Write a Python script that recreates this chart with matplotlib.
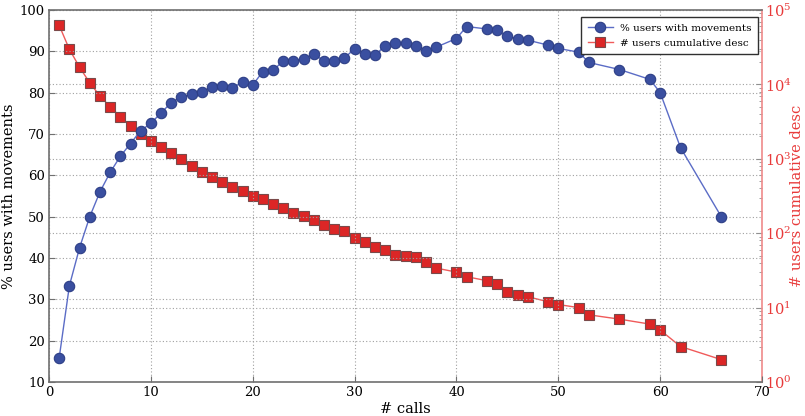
import matplotlib
matplotlib.use("Agg")
import matplotlib.pyplot as plt
from matplotlib.ticker import LogLocator, MultipleLocator

plt.rcParams['font.family'] = ['DejaVu Serif']
plt.rcParams['mathtext.fontset'] = 'dejavuserif'

# Number of calls per user
calls_pct = [1, 2, 3, 4, 5, 6, 7, 8, 9, 10, 11, 12, 13, 14, 15, 16, 17, 18, 19, 20,
             21, 22, 23, 24, 25, 26, 27, 28, 29, 30, 31, 32, 33, 34, 35, 36, 37, 38,
             40, 41, 43, 44, 45, 46, 47, 49, 50, 52, 53, 56, 59, 60, 62, 66]
# Share of users with movements (%)
pct_movements = [15.9, 33.3, 42.5, 50.0, 56.0, 60.7, 64.6, 67.7, 70.8, 72.6,
                 75.1, 77.6, 79.0, 79.6, 80.2, 81.4, 81.7, 81.2, 82.5, 81.9,
                 85.1, 85.4, 87.7, 87.7, 88.2, 89.3, 87.7, 87.7, 88.4, 90.6,
                 89.4, 89.0, 91.4, 92.0, 91.9, 91.4, 90.1, 91.0,
                 93.1, 96.0, 95.4, 95.1, 93.6, 93.1, 92.7, 91.5, 90.7, 89.8,
                 87.3, 85.6, 83.2, 80.0, 66.7, 50.0]

# Cumulative (descending) number of users
calls_cum = calls_pct
users_cum = [62000, 29600, 17000, 10500, 6980, 5010, 3680, 2790, 2175, 1750,
             1455, 1185, 994, 808, 665, 575, 483, 414, 366, 313,
             288, 249, 216, 189, 172, 150, 130, 113, 106, 85,
             76, 65, 59, 51, 50, 48, 41, 34,
             30, 26, 23, 21, 16, 15, 14, 12, 11, 10,
             8, 7, 6, 5, 3, 2]

blue_line = '#5b6cc6'
blue_face = '#3a4fa0'
red_line = '#f05a5a'
red_face = '#dc2626'
red_axis = '#f08a8a'
red_text = '#e83a3a'
spine_gray = '#707070'

fig = plt.figure(figsize=(8.05, 4.16), dpi=100)
ax = fig.add_axes([0.0609, 0.0817, 0.8857, 0.8943])
ax2 = ax.twinx()

l1, = ax.plot(calls_pct, pct_movements, color=blue_line, lw=1.0,
              marker='o', ms=7.5, mfc=blue_face, mec='#2e3f86', mew=0.8,
              label='% users with movements', zorder=3)
l2, = ax2.plot(calls_cum, users_cum, color=red_line, lw=1.0,
               marker='s', ms=6.8, mfc=red_face, mec='#7a4a4a', mew=0.8,
               label='# users cumulative desc', zorder=3)

ax.set_xlim(0, 70)
ax.set_ylim(10, 100)
ax.xaxis.set_major_locator(MultipleLocator(10))
ax.yaxis.set_major_locator(MultipleLocator(10))
ax2.set_yscale('log')
ax2.set_ylim(1, 1e5)
ax2.yaxis.set_major_locator(LogLocator(base=10, numticks=10))
ax2.yaxis.set_minor_locator(LogLocator(base=10, subs=range(2, 10), numticks=20))

grid_kw = dict(color='#a0a0a0', linestyle=(0, (1, 2)), linewidth=0.8)
ax.grid(True, which='major', **grid_kw)
ax2.grid(True, which='major', axis='y', **grid_kw)
ax.set_axisbelow(True)

for s in ['left', 'bottom', 'top']:
    ax.spines[s].set_color(spine_gray)
    ax.spines[s].set_linewidth(1.2)
ax.spines['right'].set_visible(False)
for s in ['left', 'bottom', 'top']:
    ax2.spines[s].set_visible(False)
ax2.spines['right'].set_color(red_axis)
ax2.spines['right'].set_linewidth(1.2)

ax.tick_params(direction='in', length=4, width=0.8, color=spine_gray,
               labelsize=9.5, pad=3, top=False)
ax2.tick_params(which='both', direction='in', color='#909090', labelcolor=red_text,
                labelsize=10.5, pad=2)
ax2.tick_params(which='major', length=4, width=0.8)
ax2.tick_params(which='minor', length=2, width=0.6)

ax.set_xlabel('# calls', fontsize=10.5, labelpad=2)
ax.set_ylabel('% users with movements', fontsize=10.5, labelpad=3)
ax2.set_ylabel('# users cumulative desc', fontsize=10.5, color=red_text, labelpad=-1.5)

leg = ax.legend(handles=[l1, l2], loc='upper right', fontsize=7.5,
                fancybox=False, framealpha=1, edgecolor='#303030',
                borderpad=0.6, handlelength=2.4, handletextpad=0.7,
                labelspacing=0.55, borderaxespad=0,
                bbox_to_anchor=(0.994, 0.981))
leg.get_frame().set_linewidth(1.0)
leg.set_zorder(10)
ax.set_zorder(ax2.get_zorder() + 1)
ax.patch.set_visible(False)

fig.savefig('out.png', dpi=100)
